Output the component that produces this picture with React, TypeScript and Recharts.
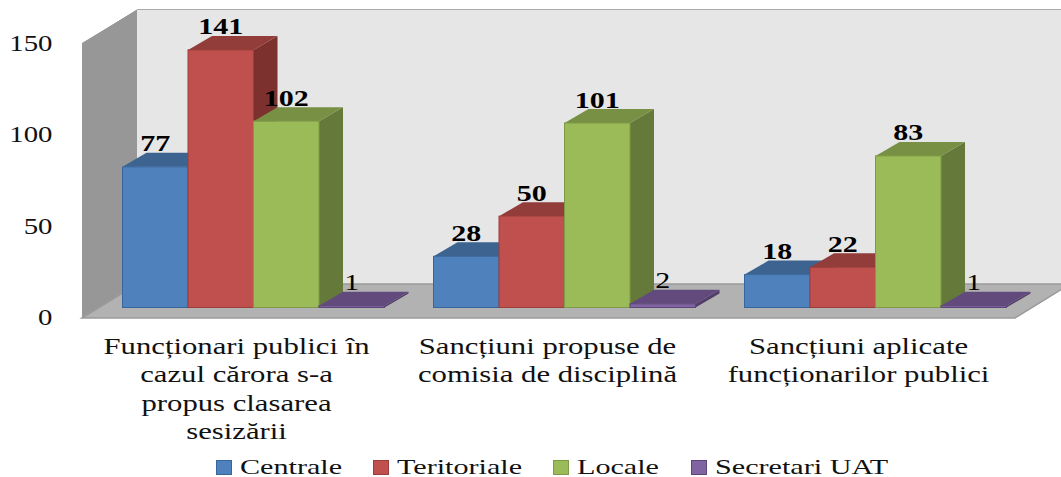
import { BarChart, Bar, XAxis, YAxis, CartesianGrid, Legend, LabelList } from "recharts";

const CATEGORIES = [
  "Funcționari publici în\ncazul cărora s-a\npropus clasarea\nsesizării",
  "Sancțiuni propuse de\ncomisia de disciplină",
  "Sancțiuni aplicate\nfuncționarilor publici",
];
const CENTRALE = [77, 28, 18];
const TERITORIALE = [141, 50, 22];
const LOCALE = [102, 101, 83];
const SECRETARI = [1, 2, 1];
const Y_TICKS = [0, 50, 100, 150];

const data = CATEGORIES.map((name, i) => ({
  name,
  centrale: CENTRALE[i],
  teritoriale: TERITORIALE[i],
  locale: LOCALE[i],
  secretari: SECRETARI[i],
}));

const FONT = '"Liberation Serif", serif';
const TEXT = "#111";

// fake 3D: how far the bars and the walls are pushed back from the plot area
const BAR_DX = 24;
const BAR_DY = 14;
const WALL_FRONT_X = 82;
const WALL_BACK_X = 137;
const WALL_FRONT_DY = 10.5;
const WALL_BACK_DY = -23.5;
const FLOOR_BACK_Y = 284;
const FLOOR_FRONT_Y = 318;
const WALL_TOP_Y = 10;
const WALL_TOP_FRONT_Y = 43;

const SHADES: Record<string, { top: string; side: string; edge: string }> = {
  "#4f81bd": { top: "#3d6391", side: "#345279", edge: "#38659b" },
  "#c0504d": { top: "#933d3a", side: "#7c312f", edge: "#9c3d3a" },
  "#9bbb59": { top: "#779043", side: "#657a3a", edge: "#7f9a46" },
  "#8064a2": { top: "#624b7c", side: "#533f69", edge: "#5d4679" },
};

function Bar3D(props: any) {
  const { x, y, width, height, fill } = props;
  const s = SHADES[fill];
  const right = x + width;
  const bottom = y + height;
  return (
    <g>
      <polygon
        points={`${right},${y} ${right + BAR_DX},${y - BAR_DY} ${right + BAR_DX},${bottom - BAR_DY} ${right},${bottom}`}
        fill={s.side}
      />
      <polygon
        points={`${x},${y} ${x + BAR_DX},${y - BAR_DY} ${right + BAR_DX},${y - BAR_DY} ${right},${y}`}
        fill={s.top}
      />
      <rect x={x} y={y} width={width} height={height} fill={fill} stroke={s.edge} strokeWidth={1} />
    </g>
  );
}

function GridLine(props: any) {
  const { y1, x2 } = props;
  const isFloor = Math.abs(y1 + WALL_BACK_DY - FLOOR_BACK_Y) < 1;
  return (
    <g>
      <line
        x1={WALL_FRONT_X}
        y1={y1 + WALL_FRONT_DY}
        x2={WALL_BACK_X}
        y2={y1 + WALL_BACK_DY}
        stroke="#868686"
        strokeWidth={1}
      />
      <line
        x1={WALL_BACK_X}
        y1={y1 + WALL_BACK_DY}
        x2={x2 + 40}
        y2={y1 + WALL_BACK_DY}
        stroke={isFloor ? "#a0a0a0" : "#8f8f8f"}
        strokeWidth={1.5}
      />
    </g>
  );
}

function YTick(props: any) {
  const { y, payload } = props;
  return (
    <text
      transform={`translate(52.5,${y + WALL_FRONT_DY + 7}) scale(1.2,1)`}
      textAnchor="end"
      fontFamily={FONT}
      fontSize={24}
      fill={TEXT}
    >
      {payload.value}
    </text>
  );
}

function XTick(props: any) {
  const { x, payload } = props;
  const lines = String(payload.value).split("\n");
  return (
    <g>
      {lines.map((line, i) => (
        <text
          key={i}
          transform={`translate(${x - 16.5},${354 + i * 28.3}) scale(1.28,1)`}
          textAnchor="middle"
          fontFamily={FONT}
          fontSize={24}
          fill={TEXT}
        >
          {line}
        </text>
      ))}
    </g>
  );
}

function makeValueLabel(bold: boolean) {
  return function ValueLabel(props: any) {
    const { x, y, width, value } = props;
    return (
      <text
        transform={`translate(${x + width / 2},${y - 15.5}) scale(1.25,1)`}
        textAnchor="middle"
        fontFamily={FONT}
        fontSize={24}
        fontWeight={bold ? 700 : 400}
        fill="#000"
      >
        {value}
      </text>
    );
  };
}

const LEGEND_X = [216, 373, 553, 691];

function LegendRow(props: any) {
  const items = props.payload ?? [];
  return (
    <div style={{ position: "relative", width: 1061, height: 477 }}>
      {items.map((item: any, i: number) => (
        <div key={item.value}>
          <span
            style={{
              position: "absolute",
              left: LEGEND_X[i],
              top: 460,
              width: 14,
              height: 13,
              background: item.color,
              border: `1px solid ${SHADES[item.color].edge}`,
            }}
          />
          <span
            style={{
              position: "absolute",
              left: LEGEND_X[i] + 24,
              top: 456,
              fontFamily: FONT,
              fontSize: 22,
              lineHeight: "21px",
              color: TEXT,
              whiteSpace: "nowrap",
              transform: `scaleX(1.37)`,
              transformOrigin: "left center",
            }}
          >
            {item.value}
          </span>
        </div>
      ))}
    </div>
  );
}

export default function App() {
  return (
    <div style={{ position: "absolute", left: 0, top: 0, width: 1061, height: 477, background: "#fff", overflow: "hidden" }}>
      <BarChart
        width={1061}
        height={477}
        data={data}
        barSize={65.5}
        barGap={0}
        margin={{ top: 33.5, right: 30.5, bottom: 0, left: 0 }}
      >
        <polygon
          points={`${WALL_BACK_X},${WALL_TOP_Y} 1061,${WALL_TOP_Y} 1061,${FLOOR_BACK_Y} ${WALL_BACK_X},${FLOOR_BACK_Y}`}
          fill="#e6e6e6"
        />
        <polygon
          points={`${WALL_FRONT_X},${WALL_TOP_FRONT_Y} ${WALL_BACK_X},${WALL_TOP_Y} ${WALL_BACK_X},${FLOOR_BACK_Y} ${WALL_FRONT_X},${FLOOR_FRONT_Y}`}
          fill="#979797"
        />
        <polygon
          points={`${WALL_FRONT_X},${FLOOR_FRONT_Y} ${WALL_BACK_X},${FLOOR_BACK_Y} 1070,${FLOOR_BACK_Y} 1015,${FLOOR_FRONT_Y}`}
          fill="#b2b2b2"
          stroke="#9a9a9a"
          strokeWidth={1.5}
        />
        <CartesianGrid vertical={false} horizontal={GridLine} />
        <XAxis dataKey="name" height={169.5} axisLine={false} tickLine={false} interval={0} tick={XTick} />
        <YAxis
          width={97.5}
          domain={[0, 150]}
          ticks={Y_TICKS}
          axisLine={false}
          tickLine={false}
          tick={YTick}
        />
        <Legend
          layout="horizontal"
          verticalAlign="middle"
          align="center"
          itemSorter={null}
          wrapperStyle={{ top: 0, left: 0, width: 1061, height: 477, pointerEvents: "none" }}
          content={LegendRow}
        />
        <Bar dataKey="centrale" name="Centrale" fill="#4f81bd" shape={Bar3D} isAnimationActive={false}>
          <LabelList dataKey="centrale" content={makeValueLabel(true)} />
        </Bar>
        <Bar dataKey="teritoriale" name="Teritoriale" fill="#c0504d" shape={Bar3D} isAnimationActive={false}>
          <LabelList dataKey="teritoriale" content={makeValueLabel(true)} />
        </Bar>
        <Bar dataKey="locale" name="Locale" fill="#9bbb59" shape={Bar3D} isAnimationActive={false}>
          <LabelList dataKey="locale" content={makeValueLabel(true)} />
        </Bar>
        <Bar dataKey="secretari" name="Secretari UAT" fill="#8064a2" shape={Bar3D} isAnimationActive={false}>
          <LabelList dataKey="secretari" content={makeValueLabel(false)} />
        </Bar>
      </BarChart>
    </div>
  );
}
